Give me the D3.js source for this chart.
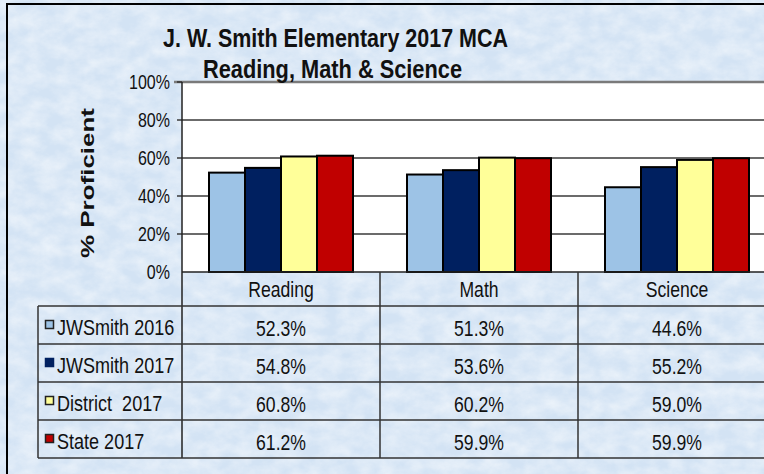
<!DOCTYPE html>
<html>
<head>
<meta charset="utf-8">
<script src="https://cdn.jsdelivr.net/npm/d3@7"></script>
<style>
  body { margin: 0; background: #fff; }
  text { font-family: Arial, "Liberation Sans", sans-serif; fill: #111; }
</style>
</head>
<body>
<svg width="764" height="474"></svg>
<script>
// Chart data
const categories = ["Reading", "Math", "Science"];
const seriesNames = ["JWSmith 2016", "JWSmith 2017", "District  2017", "State 2017"];
const jwsmith2016 = [52.3, 51.3, 44.6];
const jwsmith2017 = [54.8, 53.6, 55.2];
const district2017 = [60.8, 60.2, 59.0];
const state2017 = [61.2, 59.9, 59.9];
const yTicks = [0, 20, 40, 60, 80, 100];

const seriesValues = [jwsmith2016, jwsmith2017, district2017, state2017];
const seriesColors = ["#9dc3e6", "#002060", "#ffff99", "#c00000"];

const svg = d3.select("svg");

// marble-ish background texture
const defs = svg.append("defs");
const f = defs.append("filter").attr("id", "marble")
    .attr("x", 0).attr("y", 0).attr("width", "100%").attr("height", "100%");
f.append("feTurbulence").attr("type", "fractalNoise")
    .attr("baseFrequency", "0.05 0.07").attr("numOctaves", 4).attr("seed", 11);
f.append("feColorMatrix").attr("type", "matrix")
    .attr("values", "0 0 0 0 1  0 0 0 0 1  0 0 0 0 1  1.5 0 0 0 -0.4");

svg.append("rect").attr("width", 764).attr("height", 474).attr("fill", "#d3e3f4");
svg.append("rect").attr("width", 764).attr("height", 474)
    .attr("filter", "url(#marble)").attr("opacity", 0.55);

// outer frame (cut off at right and bottom)
svg.append("rect").attr("x", 7).attr("y", 4).attr("width", 800).attr("height", 520)
    .attr("fill", "none").attr("stroke", "#000").attr("stroke-width", 2);

// scales
const plotLeft = 182, plotRight = 776, plotTop = 82, plotBottom = 272;
const x = d3.scaleBand().domain(categories).range([plotLeft, plotRight]);
// gap width 150% of a bar: 4 bars + 1.5 gap per band
const barW = x.bandwidth() / 5.5;
const x1 = d3.scaleBand().domain(d3.range(seriesNames.length))
    .range([barW * 0.75, barW * 0.75 + barW * 4]);
const y = d3.scaleLinear().domain([0, 100]).range([plotBottom, plotTop]);
const rowY = d3.scaleBand().domain(seriesNames).range([306, 458]);

// helper for condensed text
function ctext(g, tx, ty, str, size, anchor, sx) {
  return g.append("text")
      .attr("transform", `translate(${tx},${ty}) scale(${sx || 0.8},1)`)
      .attr("text-anchor", anchor || "middle")
      .style("font-size", size + "px")
      .style("white-space", "pre")
      .text(str);
}

// plot area
svg.append("rect").attr("x", plotLeft).attr("y", plotTop)
    .attr("width", plotRight - plotLeft).attr("height", plotBottom - plotTop)
    .attr("fill", "#fff");

// gridlines and tick marks
svg.append("g").selectAll("line")
    .data(yTicks.filter(d => d > 0 && d < 100))
    .join("line")
    .attr("x1", plotLeft - 5).attr("x2", plotRight)
    .attr("y1", d => y(d)).attr("y2", d => y(d))
    .attr("stroke", "#3a3a3a").attr("stroke-width", 1.5);
svg.append("line").attr("x1", plotLeft - 8).attr("x2", plotRight)
    .attr("y1", y(100)).attr("y2", y(100))
    .attr("stroke", "#7a7a7a").attr("stroke-width", 2.5);
svg.append("line").attr("x1", plotLeft - 5).attr("x2", plotLeft)
    .attr("y1", y(100)).attr("y2", y(100))
    .attr("stroke", "#333").attr("stroke-width", 1.5);

// y tick labels
const yLab = svg.append("g");
yTicks.forEach(t => ctext(yLab, 170, y(t) + 7, t + "%", 20, "end", 0.8));

// y axis title (glyphs squeezed across the reading direction)
svg.append("text")
    .attr("transform", `translate(94,183) rotate(-90) scale(1,0.7)`)
    .attr("text-anchor", "middle")
    .attr("textLength", 150).attr("lengthAdjust", "spacingAndGlyphs")
    .style("font-size", "25px").style("font-weight", "bold")
    .text("% Proficient");

// bars
const groups = svg.append("g").selectAll("g")
    .data(categories)
    .join("g")
    .attr("transform", d => `translate(${x(d)},0)`);
groups.selectAll("rect")
    .data((c, ci) => seriesValues.map((vals, si) => ({ si, v: vals[ci] })))
    .join("rect")
    .attr("x", d => x1(d.si))
    .attr("width", x1.bandwidth())
    .attr("y", d => y(d.v))
    .attr("height", d => y(0) - y(d.v))
    .attr("fill", d => seriesColors[d.si])
    .attr("stroke", "#000").attr("stroke-width", 2);

// axis line and y axis line
svg.append("line").attr("x1", plotLeft).attr("x2", plotRight)
    .attr("y1", plotBottom).attr("y2", plotBottom)
    .attr("stroke", "#222").attr("stroke-width", 1.5);
svg.append("line").attr("x1", plotLeft).attr("x2", plotLeft)
    .attr("y1", plotTop).attr("y2", 458)
    .attr("stroke", "#222").attr("stroke-width", 1.5);

// data table
const table = svg.append("g");
categories.forEach(c => {
  table.append("line")
      .attr("x1", x(c) + x.bandwidth()).attr("x2", x(c) + x.bandwidth())
      .attr("y1", plotBottom).attr("y2", 458)
      .attr("stroke", "#333").attr("stroke-width", 1.5);
  ctext(table, x(c) + x.bandwidth() / 2, 297, c, 22);
});
table.append("line").attr("x1", 38).attr("x2", 38)
    .attr("y1", rowY.range()[0]).attr("y2", rowY.range()[1])
    .attr("stroke", "#333").attr("stroke-width", 1.5);
seriesNames.concat([null]).forEach(s => {
  const yy = s ? rowY(s) : rowY.range()[1];
  table.append("line").attr("x1", 38).attr("x2", plotRight)
      .attr("y1", yy).attr("y2", yy)
      .attr("stroke", "#333").attr("stroke-width", 1.5);
});
seriesNames.forEach((s, si) => {
  const top = rowY(s);
  table.append("rect")
      .attr("x", 45.5).attr("y", top + 14.5).attr("width", 8).attr("height", 8)
      .attr("fill", seriesColors[si])
      .attr("stroke", si === 1 ? seriesColors[si] : "#222").attr("stroke-width", 1.5);
  ctext(table, 57, top + 29, s, 22, "start", 0.82);
  categories.forEach((c, ci) => {
    ctext(table, x(c) + x.bandwidth() / 2, top + 30,
        seriesValues[si][ci].toFixed(1) + "%", 22);
  });
});

// title
svg.append("text").attr("x", 335.5).attr("y", 47)
    .attr("text-anchor", "middle")
    .attr("textLength", 345).attr("lengthAdjust", "spacingAndGlyphs")
    .style("font-size", "26px").style("font-weight", "bold")
    .text("J. W. Smith Elementary 2017 MCA");
svg.append("text").attr("x", 332.5).attr("y", 78)
    .attr("text-anchor", "middle")
    .attr("textLength", 259).attr("lengthAdjust", "spacingAndGlyphs")
    .style("font-size", "26px").style("font-weight", "bold")
    .text("Reading, Math & Science");
</script>
</body>
</html>
